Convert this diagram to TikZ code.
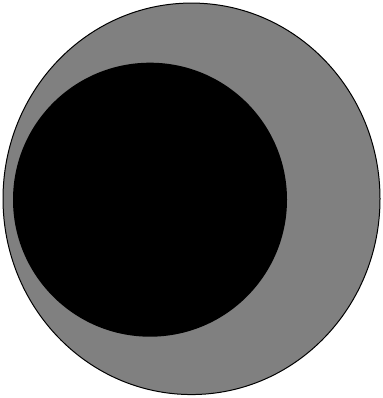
\documentclass[tikz,border=0pt]{standalone}
\usepackage{tikz}
\usetikzlibrary{shapes.geometric}
\tikzset{
    outer/.style={ellipse, draw=black, fill=gray, line width=1pt, inner sep=0pt},
    inner/.style={circle, fill=black, inner sep=0pt}
}

\begin{document}
\begin{tikzpicture}[x=1pt, y=-1pt]
    \useasboundingbox (0,0) rectangle (382,398);
    \node[outer, minimum width=377pt, minimum height=391.5pt] (ball) at (191.5,198.8) {};
    \node[inner, minimum size=274pt] (core) at (150,199.7) {};
\end{tikzpicture}
\end{document}
